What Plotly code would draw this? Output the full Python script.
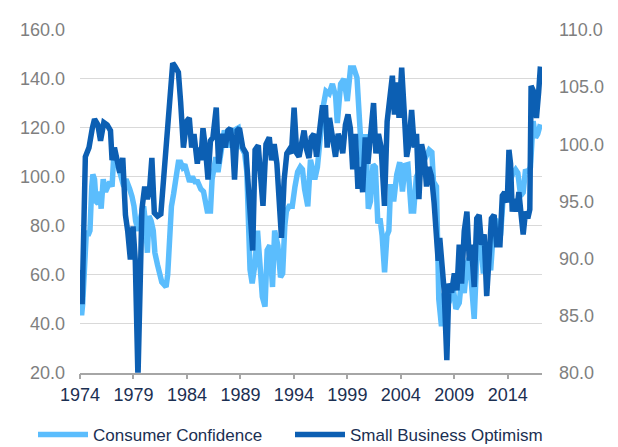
import plotly.graph_objects as go

# ---- data (decimal years, values) ----
cc_years = [1974.05, 1974.15, 1974.25, 1974.43, 1974.6, 1974.75, 1974.93, 1975.1, 1975.2, 1975.36,
            1975.5, 1975.7, 1975.85, 1975.98, 1976.17, 1976.39, 1976.54, 1976.79, 1977.0, 1977.16,
            1977.41, 1977.62, 1977.84, 1978.09, 1978.3, 1978.5, 1978.65, 1978.86, 1979.05, 1979.2,
            1979.45, 1979.7, 1979.95, 1980.15, 1980.3, 1980.45, 1980.65, 1980.85, 1981.0, 1981.25,
            1981.45, 1981.65, 1981.85, 1982.05, 1982.2, 1982.4, 1982.55, 1982.75, 1983.0, 1983.2,
            1983.4, 1983.6, 1983.8, 1984.0, 1984.25, 1984.5, 1984.75, 1985.0, 1985.3, 1985.55,
            1985.75, 1985.9, 1986.2, 1986.35, 1986.55, 1986.7, 1986.9, 1987.2, 1987.5, 1987.8,
            1988.1, 1988.4, 1988.8, 1989.1, 1989.4, 1989.6, 1989.75, 1989.9, 1990.1, 1990.35,
            1990.6, 1990.8, 1991.05, 1991.3, 1991.5, 1991.75, 1992.0, 1992.2, 1992.5, 1992.75,
            1992.95, 1993.15, 1993.3, 1993.55, 1993.85, 1994.1, 1994.35, 1994.6, 1994.8, 1995.0,
            1995.3, 1995.55, 1995.75, 1995.95, 1996.2, 1996.5, 1996.75, 1997.0, 1997.3, 1997.6,
            1997.9, 1998.06, 1998.37, 1998.68, 1998.99, 1999.3, 1999.6, 1999.9, 2000.23, 2000.45,
            2000.72, 2000.96, 2001.16, 2001.4, 2001.62, 2001.85, 2002.05, 2002.25, 2002.48, 2002.7,
            2002.88, 2003.05, 2003.33, 2003.62, 2003.9, 2004.15, 2004.4, 2004.66, 2004.97, 2005.2,
            2005.45, 2005.8, 2006.1, 2006.4, 2006.65, 2006.9, 2007.05, 2007.33, 2007.55, 2007.8,
            2008.07, 2008.5, 2008.85, 2009.15, 2009.46, 2009.7, 2009.93, 2010.18, 2010.4, 2010.6,
            2010.86, 2011.1, 2011.3, 2011.54, 2011.72, 2011.94, 2012.16, 2012.4, 2012.65, 2012.87,
            2013.09, 2013.33, 2013.58, 2013.8, 2014.0, 2014.26, 2014.5, 2014.73, 2014.94, 2015.2,
            2015.44, 2015.66, 2015.87, 2016.12, 2016.37, 2016.6, 2016.8, 2017.05]
cc_values = [47, 43.5, 48, 66, 78, 76, 78, 96, 101, 99,
             90, 89, 94, 87, 99, 94, 96, 98, 96, 109,
             107, 104, 100, 96, 99, 97, 95, 92, 88, 82,
             78, 84, 88, 80, 69, 84, 82, 78, 69, 64,
             60, 57, 56, 55, 60, 78, 88, 93, 103, 106,
             106, 104, 105, 102, 98, 100, 98, 98, 95, 94,
             90, 86, 86, 99, 104, 108, 102, 112, 119, 112,
             117.5, 119, 120, 112, 109.5, 102, 78, 62, 56.5, 64,
             78, 62, 51, 47, 70, 72, 55, 78, 72, 59,
             60.5, 80, 86, 88, 88, 96, 102, 104, 103, 95,
             88, 107, 104, 99, 104, 119, 129, 135, 134, 138,
             133, 122, 138, 140, 131, 144.5, 144.5, 140.5, 120, 100,
             117.5, 87, 90, 105, 104, 81, 83, 76, 61, 76,
             78, 97, 90, 101, 106, 94, 104.7, 105, 86, 86,
             100, 103, 106, 108, 111, 110, 98, 96, 50, 39,
             52.5, 48.5, 56.5, 46, 48.5, 59, 52.5, 64.4, 67, 56.5,
             42, 67, 77.7, 69.7, 60.5, 72.4, 69.7, 61.8, 77.7, 83,
             75, 76.4, 92.3, 91, 95, 99, 101.6, 103, 101.6, 92.3,
             93.6, 103, 101.6, 104, 122.8, 116, 117.5, 121.5]

sbo_years = [1974.03, 1974.2, 1974.5, 1974.84, 1975.15, 1975.36, 1975.67, 1975.92, 1976.23, 1976.54,
             1976.85, 1977.0, 1977.22, 1977.47, 1977.72, 1978.0, 1978.25, 1978.46, 1978.71, 1978.96,
             1979.17, 1979.42, 1979.79, 1980.05, 1980.3, 1980.5, 1980.72, 1980.95, 1981.25, 1981.56,
             1981.8, 1982.11, 1982.43, 1982.67, 1982.89, 1983.2, 1983.41, 1983.67, 1983.97, 1984.22,
             1984.44, 1984.66, 1984.97, 1985.15, 1985.3, 1985.5, 1985.72, 1985.97, 1986.2, 1986.43,
             1986.74, 1986.96, 1987.15, 1987.36, 1987.58, 1987.83, 1988.07, 1988.29, 1988.45, 1988.69,
             1988.91, 1989.22, 1989.53, 1989.75, 1989.93, 1990.15, 1990.37, 1990.67, 1990.86, 1991.11,
             1991.39, 1991.7, 1991.91, 1992.16, 1992.41, 1992.63, 1992.84, 1993.09, 1993.34, 1993.55,
             1993.77, 1994.02, 1994.27, 1994.48, 1994.7, 1994.95, 1995.2, 1995.41, 1995.63, 1995.88,
             1996.12, 1996.34, 1996.65, 1996.96, 1997.11, 1997.33, 1997.58, 1997.89, 1998.14, 1998.35,
             1998.57, 1998.82, 1999.06, 1999.28, 1999.5, 1999.75, 1999.99, 2000.21, 2000.43, 2000.67,
             2000.92, 2001.14, 2001.45, 2001.67, 2001.91, 2002.16, 2002.47, 2002.72, 2002.99, 2003.21,
             2003.4, 2003.62, 2003.83, 2004.08, 2004.33, 2004.54, 2004.76, 2005.01, 2005.26, 2005.47,
             2005.69, 2005.94, 2006.19, 2006.4, 2006.62, 2006.87, 2007.11, 2007.33, 2007.49, 2007.64,
             2007.86, 2008.05, 2008.3, 2008.5, 2008.75, 2009.0, 2009.25, 2009.46, 2009.68, 2009.93,
             2010.18, 2010.4, 2010.6, 2010.86, 2011.1, 2011.32, 2011.54, 2011.79, 2012.03, 2012.25,
             2012.47, 2012.72, 2012.96, 2013.27, 2013.49, 2013.71, 2013.95, 2014.11, 2014.26, 2014.42,
             2014.63, 2014.82, 2015.04, 2015.25, 2015.44, 2015.66, 2015.87, 2016.06, 2016.18, 2016.43,
             2016.68, 2016.89, 2017.05]
sbo_values = [89.0, 86.0, 98.9, 99.7, 101.4, 102.2, 101.7, 100.3, 101.9, 101.7,
              101.2, 98.6, 99.7, 98.5, 97.5, 98.8, 93.8, 92.4, 89.9, 92.8,
              89.8, 79.5, 94.3, 96.3, 95.2, 96.0, 98.8, 94.0, 93.7, 93.9,
              96.9, 99.2, 104.0, 107.1, 106.8, 106.3, 103.7, 99.7, 102.0, 102.3,
              99.7, 100.9, 98.3, 99.7, 98.6, 101.4, 99.7, 96.9, 100.3, 100.6,
              103.2, 98.3, 99.7, 100.9, 99.7, 101.2, 101.4, 99.7, 96.9, 101.2,
              101.4, 99.7, 99.2, 95.5, 92.4, 90.7, 99.5, 99.9, 97.5, 94.6,
              100.0, 100.6, 98.6, 100.0, 98.3, 94.1, 91.8, 96.9, 99.2, 99.5,
              99.2, 103.2, 99.2, 98.9, 100.3, 101.2, 99.5, 98.8, 100.6, 100.9,
              98.9, 100.6, 103.2, 103.2, 99.7, 102.3, 100.9, 98.9, 100.9, 100.3,
              99.2, 101.7, 102.6, 101.4, 97.8, 100.9, 96.1, 98.0, 95.8, 100.6,
              98.3, 100.6, 103.6, 99.2, 100.9, 99.7, 94.6, 102.0, 104.0, 106.0,
              102.6, 105.4, 102.3, 106.7, 102.6, 98.9, 100.0, 103.0, 99.7, 100.9,
              95.2, 100.0, 98.9, 96.3, 98.0, 97.2, 94.9, 92.4, 89.8, 91.8,
              88.4, 87.2, 81.1, 87.8, 87.0, 88.7, 87.2, 91.2, 87.8, 92.4,
              94.1, 89.8, 91.2, 87.5, 93.5, 93.8, 91.2, 92.1, 86.7, 91.2,
              93.5, 93.8, 91.2, 91.2, 95.5, 95.8, 94.9, 99.5, 98.3, 94.1,
              95.2, 94.1, 95.8, 93.8, 92.1, 94.1, 93.5, 94.3, 105.1, 104.6,
              102.3, 104.6, 106.8]

x_tick_years = [1974, 1979, 1984, 1989, 1994, 1999, 2004, 2009, 2014]
x_tick_labels = [str(y) for y in x_tick_years]

LIGHT = "#5BBDFD"
DARK = "#0C5FB3"
NAVY = "#1B2F52"
GREY = "#7F7F7F"
FONT = "Liberation Sans, Arial, sans-serif"

# the page body adds an 8px offset, so the figure is 8px smaller on each axis
FIG_W, FIG_H = 610, 439

fig = go.Figure()
fig.add_trace(go.Scatter(x=cc_years, y=cc_values, name="Consumer Confidence", mode="lines",
                         line=dict(color=LIGHT, width=5.5), legend="legend"))
fig.add_trace(go.Scatter(x=sbo_years, y=sbo_values, name="Small Business Optimism", mode="lines",
                         yaxis="y2", line=dict(color=DARK, width=5.5), legend="legend2"))

leg_common = dict(orientation="h", xref="container", yref="container", yanchor="middle",
                  xanchor="left", font=dict(size=17, color=NAVY, family=FONT), itemwidth=50,
                  bgcolor="rgba(0,0,0,0)")

fig.update_layout(
    width=FIG_W, height=FIG_H,
    margin=dict(l=68, r=76, t=13, b=74),
    paper_bgcolor="white", plot_bgcolor="white",
    font=dict(family=FONT),
    showlegend=True,
    legend=dict(x=25 / FIG_W, y=12 / FIG_H, **leg_common),
    legend2=dict(x=282 / FIG_W, y=12 / FIG_H, **leg_common),
    xaxis=dict(range=[1974, 2017.2], tickmode="array", tickvals=x_tick_years, ticktext=x_tick_labels,
               showgrid=False, zeroline=False, showline=True, linecolor="#A6A6A6", linewidth=1.5,
               ticks="outside", ticklen=5, tickcolor="#A6A6A6", tickwidth=1.5,
               tickfont=dict(size=18, color=NAVY, family=FONT)),
    yaxis=dict(range=[20, 160], dtick=20, tick0=20, tickformat=".1f", showgrid=True,
               gridcolor="#D9D9D9", gridwidth=1, zeroline=False, showline=False,
               tickfont=dict(size=18, color=GREY, family=FONT), ticklabelstandoff=14),
    yaxis2=dict(range=[80, 110], dtick=5, tick0=80, tickformat=".1f", overlaying="y", side="right",
                showgrid=False, zeroline=False, showline=False,
                tickfont=dict(size=18, color=GREY, family=FONT), ticklabelstandoff=16),
)

fig.write_html("out.html")
